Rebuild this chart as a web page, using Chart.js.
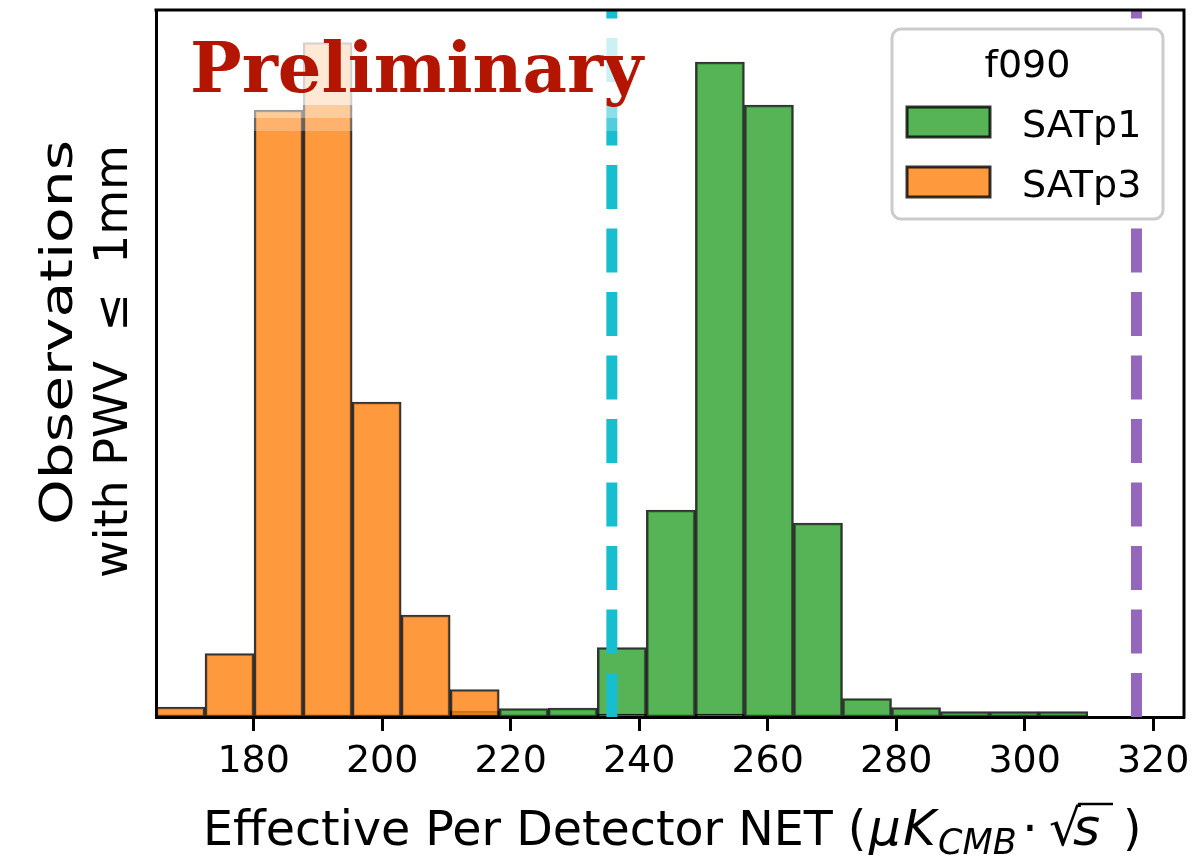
<!DOCTYPE html>
<html>
<head>
<meta charset="utf-8">
<script src="https://cdn.jsdelivr.net/npm/chart.js@4.4.0/dist/chart.umd.min.js"></script>
<style>
  html, body { margin: 0; padding: 0; background: #ffffff; }
  #wrap { position: relative; width: 1204px; height: 866px; }
</style>
</head>
<body>
<div id="wrap"><canvas id="c"></canvas></div>
<script>
// ---------------- data ----------------
const binEdges = [164.8, 172.43, 180.06, 187.70, 195.33, 202.96, 210.59, 218.22, 225.86, 233.49,
                  241.12, 248.75, 256.38, 264.02, 271.65, 279.28, 286.91, 294.54, 302.18, 309.81];
const satp1Counts = [0, 0, 0, 0, 0, 0, 1.2, 1.7, 1.8, 13.9, 41.4, 131, 122.4, 38.8, 3.7, 1.9, 1.1, 1.1, 1.1];
const satp3Counts = [2, 12.7, 121.4, 134.9, 63, 20.4, 5.5, 0, 0, 0.6, 0, 0.6, 0, 0, 0, 0, 0, 0, 0];
const seriesNames = ['SATp1', 'SATp3'];
const legendTitle = 'f090';
const xTickValues = [180, 200, 220, 240, 260, 280, 300, 320];
const xLimits = [164.8, 324.8];
const yLimits = [0, 141.4];
const refLineValues = [235.75, 317.4];
const yTitleLines = ['Observations', 'with PWV  \u2264  1mm'];
const watermark = 'Preliminary';

// ---------------- styles ----------------
const seriesFill = ['rgba(44,160,44,0.8)', 'rgba(255,127,14,0.8)'];
const edgeColor = 'rgba(0,0,0,0.8)';
const refLineColors = ['#17becf', '#9467bd'];
const SANS = '"DejaVu Sans", "Liberation Sans", sans-serif';
const SERIF = '"DejaVu Serif", "Liberation Serif", serif';

const centers = binEdges.slice(0, -1).map((e, i) => (e + binEdges[i + 1]) / 2);
const toPoints = counts => counts.map((c, i) => ({ x: centers[i], y: c }));

function roundRectPath(ctx, x, y, w, h, r) {
  ctx.beginPath();
  ctx.moveTo(x + r, y);
  ctx.lineTo(x + w - r, y);
  ctx.arcTo(x + w, y, x + w, y + r, r);
  ctx.lineTo(x + w, y + h - r);
  ctx.arcTo(x + w, y + h, x + w - r, y + h, r);
  ctx.lineTo(x + r, y + h);
  ctx.arcTo(x, y + h, x, y + h - r, r);
  ctx.lineTo(x, y + r);
  ctx.arcTo(x, y, x + r, y, r);
  ctx.closePath();
}

const annotations = {
  id: 'annotations',
  afterDatasetsDraw(chart) {
    const { ctx, chartArea: a, scales: { x } } = chart;
    ctx.save();
    ctx.beginPath();
    ctx.rect(a.left, a.top, a.right - a.left, a.bottom - a.top);
    ctx.clip();
    refLineValues.forEach((v, i) => {
      const px = x.getPixelForValue(v);
      ctx.strokeStyle = refLineColors[i];
      ctx.lineWidth = 11;
      ctx.lineCap = 'butt';
      ctx.setLineDash([44, 19.5]);
      ctx.beginPath();
      ctx.moveTo(px, a.bottom);
      ctx.lineTo(px, a.top);
      ctx.stroke();
    });
    ctx.restore();
  },
  afterDraw(chart) {
    const { ctx, chartArea: a } = chart;
    ctx.save();
    // top / right spines
    ctx.strokeStyle = '#000';
    ctx.lineWidth = 3;
    ctx.setLineDash([]);
    ctx.beginPath();
    ctx.moveTo(a.left - 1.5, a.top);
    ctx.lineTo(a.right, a.top);
    ctx.lineTo(a.right, a.bottom + 1.5);
    ctx.stroke();

    // watermark box + text
    const bx = a.left + 26, bw = 470;
    ctx.fillStyle = 'rgba(255,255,255,0.78)';
    ctx.fillRect(bx, a.top + 18, bw, 77);
    ctx.fillStyle = 'rgba(255,255,255,0.5)';
    ctx.fillRect(bx, a.top + 95, bw, 13);
    ctx.fillStyle = 'rgba(255,255,255,0.25)';
    ctx.fillRect(bx, a.top + 108, bw, 13);
    ctx.font = 'bold 60px ' + SERIF;
    const w60 = ctx.measureText(watermark).width;
    const fs = 60 * 453 / w60;
    ctx.font = 'bold ' + fs.toFixed(1) + 'px ' + SERIF;
    ctx.fillStyle = '#b41500';
    ctx.textAlign = 'left';
    ctx.textBaseline = 'alphabetic';
    ctx.fillText(watermark, a.left + 34, a.top + 82);

    // legend
    const lx = a.right - 292, ly = a.top + 19, lw = 271, lh = 190;
    roundRectPath(ctx, lx, ly, lw, lh, 9);
    ctx.fillStyle = '#ffffff';
    ctx.fill();
    ctx.strokeStyle = '#cccccc';
    ctx.lineWidth = 3;
    ctx.stroke();
    ctx.fillStyle = '#000';
    ctx.font = '38px ' + SANS;
    ctx.textAlign = 'center';
    ctx.fillText(legendTitle, lx + lw / 2, ly + 48);
    ctx.textAlign = 'left';
    chart.data.datasets.forEach((ds, i) => {
      const ry = ly + 78 + i * 60;
      ctx.fillStyle = ds.backgroundColor;
      ctx.fillRect(lx + 15, ry, 83, 30);
      ctx.strokeStyle = edgeColor;
      ctx.lineWidth = 3;
      ctx.strokeRect(lx + 15, ry, 83, 30);
      ctx.fillStyle = '#000';
      ctx.font = '38px ' + SANS;
      ctx.fillText(ds.label, lx + 130, ry + 30);
    });

    // y axis title (two lines, rotated)
    const yMid = (a.top + a.bottom) / 2;
    const yLines = [
      { t: yTitleLines[0], size: 45, len: 385, bx: 72, cy: yMid - 31 },
      { t: yTitleLines[1], size: 46, len: 0, bx: 127, cy: yMid - 2 }
    ];
    ctx.fillStyle = '#000';
    yLines.forEach(L => {
      ctx.save();
      ctx.font = L.size + 'px ' + SANS;
      const w = ctx.measureText(L.t).width;
      const sx = L.len ? L.len / w : 1;
      ctx.translate(L.bx, L.cy);
      ctx.rotate(-Math.PI / 2);
      ctx.scale(sx, 1);
      ctx.textAlign = 'center';
      ctx.textBaseline = 'alphabetic';
      ctx.fillText(L.t, 0, 0);
      ctx.restore();
    });

    // x axis title with math part
    const base = a.bottom + 128;
    const x0 = (a.left + a.right) / 2 - 467;
    ctx.textAlign = 'left';
    ctx.textBaseline = 'alphabetic';
    ctx.fillStyle = '#000';
    ctx.font = '47.5px ' + SANS;
    ctx.fillText('Effective Per Detector NET (', x0, base);
    ctx.font = 'italic 50px ' + SANS;
    ctx.fillText('\u03bc', x0 + 666, base);
    ctx.fillText('K', x0 + 700, base);
    ctx.font = 'italic 35px ' + SANS;
    ctx.fillText('CMB', x0 + 735, base + 9);
    ctx.font = '50px ' + SANS;
    ctx.textAlign = 'center';
    ctx.fillText('\u00b7', x0 + 827, base);
    ctx.textAlign = 'left';
    ctx.font = '50px ' + SANS;
    ctx.fillText('\u221a', x0 + 846, base);
    const sqrtW = ctx.measureText('\u221a').width;
    ctx.font = 'italic 52px ' + SANS;
    ctx.fillText('s', x0 + 870, base);
    ctx.strokeStyle = '#000';
    ctx.lineWidth = 2.5;
    ctx.beginPath();
    ctx.moveTo(x0 + 846 + sqrtW - 3, base - 41);
    ctx.lineTo(x0 + 910, base - 41);
    ctx.stroke();
    ctx.font = '47.5px ' + SANS;
    ctx.fillText(')', x0 + 920, base);
    ctx.restore();
  }
};

new Chart(document.getElementById('c'), {
  type: 'bar',
  data: {
    datasets: [
      { label: seriesNames[0], data: toPoints(satp1Counts), backgroundColor: seriesFill[0],
        borderColor: edgeColor, borderWidth: 2.2, borderSkipped: false, grouped: false,
        barPercentage: 1, categoryPercentage: 1, order: 1 },
      { label: seriesNames[1], data: toPoints(satp3Counts), backgroundColor: seriesFill[1],
        borderColor: edgeColor, borderWidth: 2.2, borderSkipped: false, grouped: false,
        barPercentage: 1, categoryPercentage: 1, order: 0 }
    ]
  },
  options: {
    responsive: true,
    maintainAspectRatio: false,
    animation: false,
    devicePixelRatio: 1,
    layout: { padding: { left: 0, right: 20, top: 10, bottom: 0 } },
    plugins: { legend: { display: false }, tooltip: { enabled: false } },
    scales: {
      x: {
        type: 'linear', min: xLimits[0], max: xLimits[1], offset: false, z: 1,
        afterBuildTicks: s => { s.ticks = xTickValues.map(v => ({ value: v })); },
        afterFit: s => { s.height = 149; s.paddingLeft = 0; s.paddingRight = 0; },
        ticks: { autoSkip: false, maxRotation: 0, minRotation: 0, color: '#000',
                 font: { family: SANS, size: 38 }, padding: 8 },
        grid: { display: true, offset: false, drawOnChartArea: false, drawTicks: true, tickLength: 14,
                tickWidth: 3, tickColor: '#000' },
        border: { display: true, color: '#000', width: 3 },
        title: { display: false }
      },
      y: {
        type: 'linear', min: yLimits[0], max: yLimits[1], z: 1,
        afterFit: s => { s.width = 156; s.paddingTop = 0; s.paddingBottom = 0; },
        ticks: { display: false },
        grid: { display: false },
        border: { display: true, color: '#000', width: 3 },
        title: { display: false }
      }
    }
  },
  plugins: [annotations]
});
</script>
</body>
</html>
